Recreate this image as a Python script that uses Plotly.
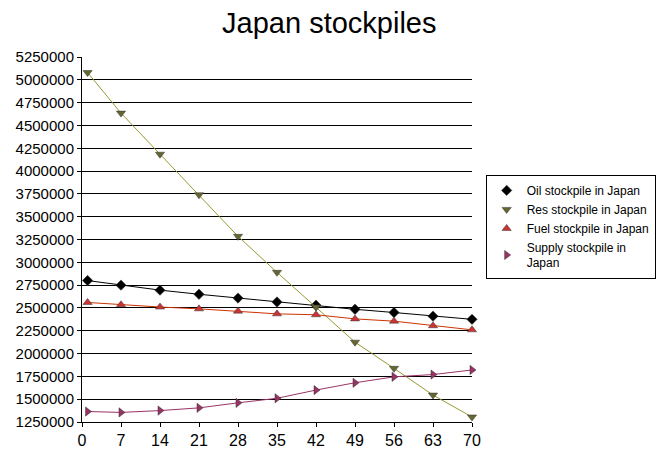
import plotly.graph_objects as go

days = [1, 7, 14, 21, 28, 35, 42, 49, 56, 63, 70]
oil = [2800000, 2750000, 2695000, 2650000, 2608000, 2565000, 2530000, 2485000, 2450000, 2410000, 2375000]
res = [5080000, 4635000, 4185000, 3740000, 3285000, 2890000, 2510000, 2125000, 1838000, 1545000, 1305000]
fuel = [2560000, 2535000, 2510000, 2490000, 2465000, 2435000, 2425000, 2380000, 2355000, 2305000, 2260000]
supply = [1365000, 1355000, 1375000, 1405000, 1460000, 1510000, 1600000, 1680000, 1745000, 1770000, 1820000]

series = [
    ("Oil stockpile in Japan", oil, "#000000", "#000000", "diamond"),
    ("Res stockpile in Japan", res, "#999933", "#666633", "triangle-down"),
    ("Fuel stockpile in Japan", fuel, "#CC3300", "#CC3333", "triangle-up"),
    ("Supply stockpile in<br>Japan", supply, "#993366", "#993366", "triangle-right"),
]

fig = go.Figure()
for name, vals, lcol, mcol, sym in series:
    # line drawn separately so the legend shows only the marker
    fig.add_trace(go.Scatter(x=days, y=vals, mode="lines", showlegend=False,
                             line=dict(color=lcol, width=1), hoverinfo="skip"))
    fig.add_trace(go.Scatter(x=days, y=vals, mode="markers", name=name, cliponaxis=False,
                             marker=dict(symbol=sym, size=8, color=mcol,
                                         line=dict(color="#333333", width=0.5))))

# page body has an 8px margin, so the figure is a bit smaller than the window
fig.update_layout(
    width=657, height=442,
    paper_bgcolor="white", plot_bgcolor="white",
    font=dict(family="Liberation Sans, Arial", color="black"),
    title=dict(text="Japan stockpiles", x=0.489, xanchor="center", y=0.99, yanchor="top",
               font=dict(size=29)),
    margin=dict(l=74, r=193, t=49, b=28, autoexpand=False),
    legend=dict(x=1.035, y=0.677, xanchor="left", yanchor="top",
                bordercolor="black", borderwidth=1, bgcolor="white",
                font=dict(size=12), tracegroupgap=0, itemwidth=30),
    showlegend=True,
)
fig.update_xaxes(range=[0, 70], tick0=0, dtick=7, showgrid=False, zeroline=False,
                 showline=True, linecolor="black", linewidth=1,
                 ticks="outside", ticklen=4, tickcolor="black",
                 tickfont=dict(size=16), automargin=False)
fig.update_yaxes(range=[1250000, 5250000], dtick=250000, showgrid=True,
                 gridcolor="black", gridwidth=1, zeroline=False,
                 showline=True, linecolor="black", linewidth=1, mirror=False,
                 ticks="outside", ticklen=4, tickcolor="black",
                 tickformat="d", tickfont=dict(size=15), automargin=False)

fig.write_html("out.html")
